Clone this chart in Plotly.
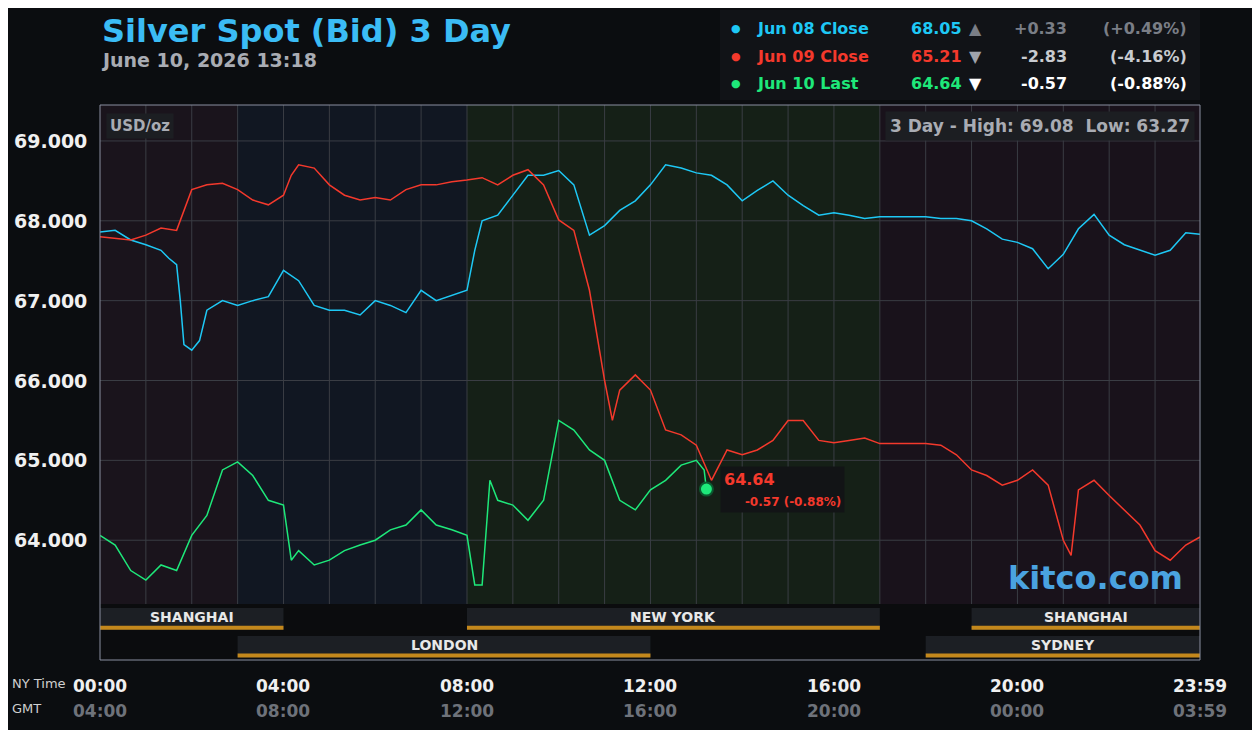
import plotly.graph_objects as go

# time in hours (NY), values in USD/oz
t_blue = [0, 0.33, 0.67, 1, 1.33, 1.5, 1.67, 1.75, 1.83, 2, 2.17, 2.33, 2.67, 3, 3.33, 3.67, 4, 4.33, 4.67, 5,
          5.33, 5.67, 6, 6.33, 6.67, 7, 7.33, 7.67, 8, 8.17, 8.33, 8.67, 9, 9.33, 9.67, 10, 10.33, 10.67, 11, 11.33,
          11.67, 12, 12.33, 12.67, 13, 13.33, 13.67, 14, 14.33, 14.67, 15, 15.33, 15.67, 16, 16.33, 16.67, 17, 18,
          18.33, 18.67, 19, 19.33, 19.67, 20, 20.33, 20.67, 21, 21.33, 21.67, 22, 22.33, 22.67, 23, 23.33, 23.67, 23.98]
v_blue = [67.86, 67.88, 67.76, 67.70, 67.63, 67.53, 67.45, 67.00, 66.45, 66.38, 66.50, 66.88, 67.00, 66.94, 67.00,
          67.05, 67.38, 67.25, 66.94, 66.88, 66.88, 66.82, 67.00, 66.94, 66.85, 67.13, 67.00, 67.07, 67.13, 67.63,
          68.00, 68.07, 68.32, 68.57, 68.57, 68.63, 68.45, 67.82, 67.94, 68.13, 68.25, 68.45, 68.70, 68.66, 68.60,
          68.57, 68.45, 68.25, 68.38, 68.50, 68.32, 68.19, 68.07, 68.10, 68.07, 68.03, 68.05, 68.05, 68.03, 68.03,
          68.00, 67.90, 67.77, 67.73, 67.65, 67.40, 67.58, 67.90, 68.08, 67.82, 67.70, 67.63, 67.57, 67.63, 67.85, 67.83]

t_red = [0, 0.33, 0.67, 1, 1.33, 1.67, 2, 2.33, 2.67, 3, 3.33, 3.67, 4, 4.17, 4.33, 4.67, 5, 5.33, 5.67, 6, 6.33,
         6.67, 7, 7.33, 7.67, 8, 8.33, 8.67, 9, 9.33, 9.67, 10, 10.33, 10.67, 11, 11.17, 11.33, 11.67, 12, 12.33,
         12.67, 13, 13.33, 13.67, 14, 14.33, 14.67, 15, 15.33, 15.67, 16, 16.33, 16.67, 17, 18, 18.33, 18.67, 19,
         19.33, 19.67, 20, 20.33, 20.67, 21, 21.17, 21.33, 21.67, 22, 22.33, 22.67, 23, 23.33, 23.67, 23.98]
v_red = [67.80, 67.78, 67.76, 67.82, 67.91, 67.88, 68.39, 68.45, 68.47, 68.39, 68.26, 68.20, 68.32, 68.57, 68.70,
         68.66, 68.45, 68.32, 68.26, 68.29, 68.26, 68.39, 68.45, 68.45, 68.49, 68.51, 68.54, 68.45, 68.57, 68.64,
         68.45, 68.01, 67.88, 67.13, 66.00, 65.50, 65.88, 66.07, 65.88, 65.38, 65.32, 65.19, 64.75, 65.13, 65.07,
         65.13, 65.25, 65.50, 65.50, 65.25, 65.22, 65.25, 65.28, 65.21, 65.21, 65.19, 65.07, 64.88, 64.81, 64.69,
         64.75, 64.88, 64.69, 64.00, 63.81, 64.63, 64.75, 64.56, 64.38, 64.19, 63.87, 63.75, 63.94, 64.04]

t_green = [0, 0.33, 0.67, 1, 1.33, 1.67, 2, 2.33, 2.67, 3, 3.33, 3.67, 4, 4.17, 4.33, 4.67, 5, 5.33, 5.67, 6, 6.33,
           6.67, 7, 7.33, 7.67, 8, 8.17, 8.33, 8.5, 8.67, 9, 9.33, 9.67, 10, 10.33, 10.67, 11, 11.33, 11.67, 12,
           12.33, 12.67, 13, 13.17, 13.22]
v_green = [64.06, 63.94, 63.62, 63.50, 63.69, 63.62, 64.06, 64.31, 64.88, 64.98, 64.81, 64.50, 64.44, 63.75, 63.87,
           63.69, 63.75, 63.87, 63.94, 64.00, 64.13, 64.19, 64.38, 64.19, 64.13, 64.06, 63.44, 63.44, 64.75, 64.50,
           64.44, 64.25, 64.50, 65.50, 65.38, 65.13, 65.00, 64.50, 64.38, 64.63, 64.75, 64.94, 65.00, 64.88, 64.64]

y_ticks = [64, 65, 66, 67, 68, 69]
x_ticks = [0, 4, 8, 12, 16, 20, 23.98]
ny_labels = ["00:00", "04:00", "08:00", "12:00", "16:00", "20:00", "23:59"]
gmt_labels = ["04:00", "08:00", "12:00", "16:00", "20:00", "00:00", "03:59"]

BLUE, RED, GREEN = "#1ec8f5", "#f4392c", "#1ee87a"
YMIN, YMAX, YDATA = 62.5, 69.45, 63.2
F = "DejaVu Sans"


def px(p):
    return (p - 100) / 1100


def py(p):
    return (660 - p) / 555


fig = go.Figure()
for t, v, c in [(t_blue, v_blue, BLUE), (t_red, v_red, RED), (t_green, v_green, GREEN)]:
    fig.add_trace(go.Scatter(x=t, y=v, mode="lines", line=dict(color=c, width=1.5), hoverinfo="skip"))
fig.add_trace(go.Scatter(x=[t_green[-1]], y=[v_green[-1]], mode="markers",
                         marker=dict(color=GREEN, size=13, line=dict(color="#0b5a30", width=2))))

shapes = []
# session background bands
for x0, x1, col in [(0, 3, "#1a141c"), (3, 8, "#111722"), (8, 17, "#152017"), (17, 24, "#19121b")]:
    shapes.append(dict(type="rect", xref="x", yref="y", x0=x0, x1=x1, y0=YDATA, y1=YMAX,
                       fillcolor=col, line_width=0, layer="below"))
# grid
for h in range(1, 24):
    shapes.append(dict(type="line", xref="x", yref="y", x0=h, x1=h, y0=YDATA, y1=YMAX,
                       line=dict(color="#3a3d44", width=1), layer="below"))
for yv in y_ticks:
    shapes.append(dict(type="line", xref="x", yref="y", x0=0, x1=24, y0=yv, y1=yv,
                       line=dict(color="#3a3d44", width=1), layer="below"))
# session bar strip
shapes.append(dict(type="rect", xref="x", yref="y", x0=0, x1=24, y0=YMIN, y1=YDATA,
                   fillcolor="#0b0c0e", line_width=0, layer="below"))
ann = []
sessions = [("SHANGHAI", 0, 4, 0), ("NEW YORK", 8, 17, 0), ("SHANGHAI", 19, 24, 0),
            ("LONDON", 3, 12, 1), ("SYDNEY", 18, 24, 1)]
row_h = (YDATA - YMIN) / 2
for name, x0, x1, r in sessions:
    top = YDATA - 0.05 - r * row_h
    bot = top - row_h + 0.08
    shapes.append(dict(type="rect", xref="x", yref="y", x0=x0, x1=x1, y0=bot, y1=top,
                       fillcolor="#1c1f24", line_width=0, layer="below"))
    shapes.append(dict(type="rect", xref="x", yref="y", x0=x0, x1=x1, y0=bot, y1=bot + 0.05,
                       fillcolor="#c4881c", line_width=0, layer="below"))
    ann.append(dict(x=(x0 + x1) / 2, y=(top + bot) / 2 + 0.02, xref="x", yref="y", text="<b>%s</b>" % name,
                    showarrow=False, yanchor="middle", font=dict(color="#e8e8e8", size=14, family=F)))
# plot border
shapes.append(dict(type="rect", xref="paper", yref="paper", x0=0, x1=1, y0=0, y1=1,
                   line=dict(color="#8a8fa0", width=1)))
# legend box
shapes.append(dict(type="rect", xref="paper", yref="paper", x0=px(720), x1=1,
                   y0=py(100), y1=py(10), fillcolor="#111317", line_width=0))

for yv in y_ticks:
    ann.append(dict(x=-0.01, y=yv, xref="paper", yref="y", text="<b>%.3f</b>" % yv, showarrow=False,
                    xanchor="right", yanchor="middle", font=dict(color="#f0f0f0", size=19, family=F)))
for xv, a, b in zip(x_ticks, ny_labels, gmt_labels):
    ann.append(dict(x=xv, y=py(686), xref="x", yref="paper", text="<b>%s</b>" % a, showarrow=False,
                    yanchor="middle", font=dict(color="#f0f0f0", size=17, family=F)))
    ann.append(dict(x=xv, y=py(711), xref="x", yref="paper", text="<b>%s</b>" % b, showarrow=False,
                    yanchor="middle", font=dict(color="#6e727a", size=17, family=F)))
ann.append(dict(x=px(10), y=py(683), xref="paper", yref="paper", text="NY Time", showarrow=False,
                xanchor="left", yanchor="middle", font=dict(color="#d0d0d0", size=13, family=F)))
ann.append(dict(x=px(10), y=py(708), xref="paper", yref="paper", text="GMT", showarrow=False,
                xanchor="left", yanchor="middle", font=dict(color="#d0d0d0", size=13, family=F)))

# title
ann.append(dict(x=px(100), y=py(31), xref="paper", yref="paper", text="<b>Silver Spot (Bid) 3 Day</b>",
                showarrow=False, xanchor="left", yanchor="middle", font=dict(color="#3bbcf5", size=32, family=F)))
ann.append(dict(x=px(99), y=py(60), xref="paper", yref="paper", text="<b>June 10, 2026 13:18</b>",
                showarrow=False, xanchor="left", yanchor="middle", font=dict(color="#a9acb3", size=19, family=F)))

# legend rows
rows = [("Jun 08 Close", "68.05", "▲", "+0.33", "(+0.49%)", BLUE, "#7a7e86", "#7a7e86"),
        ("Jun 09 Close", "65.21", "▼", "-2.83", "(-4.16%)", RED, "#9fa3ab", "#c8cbd0"),
        ("Jun 10 Last", "64.64", "▼", "-0.57", "(-0.88%)", GREEN, "#ffffff", "#ffffff")]
for i, (lab, val, arr, ch, pct, c, ac, tc) in enumerate(rows):
    yp = py(28 + i * 28)
    common = dict(xref="paper", yref="paper", showarrow=False, yanchor="middle")
    ann.append(dict(x=px(736), y=yp, text="●", font=dict(color=c, size=11, family=F), **common))
    ann.append(dict(x=px(755), y=yp, text="<b>%s</b>" % lab, xanchor="left",
                    font=dict(color=c, size=16, family=F), **common))
    ann.append(dict(x=px(964), y=yp, text="<b>%s</b>" % val, xanchor="right",
                    font=dict(color=c, size=16, family=F), **common))
    ann.append(dict(x=px(984), y=yp, text=arr, font=dict(color=ac, size=16, family=F), **common))
    ann.append(dict(x=px(1069), y=yp, text="<b>%s</b>" % ch, xanchor="right",
                    font=dict(color=tc, size=16, family=F), **common))
    ann.append(dict(x=px(1189), y=yp, text="<b>%s</b>" % pct, xanchor="right",
                    font=dict(color=tc, size=16, family=F), **common))

ann.append(dict(x=0.005, y=0.985, xref="paper", yref="paper", text="<b>USD/oz</b>", showarrow=False,
                xanchor="left", yanchor="top", bgcolor="#1c1e22", borderpad=3,
                font=dict(color="#a9acb3", size=15, family=F)))
ann.append(dict(x=0.995, y=0.99, xref="paper", yref="paper", text="<b>3 Day - High: 69.08  Low: 63.27</b>",
                showarrow=False, xanchor="right", yanchor="top", bgcolor="#1c1e22", borderpad=4,
                font=dict(color="#a9acb3", size=17, family=F)))
ann.append(dict(x=t_green[-1] + 0.3, y=v_green[-1], xref="x", yref="y",
                text="<b>64.64</b><br><span style='font-size:12px'><b>     -0.57 (-0.88%)</b></span>",
                showarrow=False, xanchor="left", yanchor="middle", align="left", bgcolor="#121416", borderpad=3,
                font=dict(color=RED, size=16, family=F)))
ann.append(dict(x=px(1185), y=py(578), xref="paper", yref="paper", text="<b>kitco.com</b>", showarrow=False,
                xanchor="right", yanchor="middle", font=dict(color="#4aa3e0", size=32, family=F)))

fig.update_layout(
    width=1252, height=722, margin=dict(l=92, r=60, t=97, b=70),
    paper_bgcolor="#0b0d10", plot_bgcolor="#0b0d10", showlegend=False,
    xaxis=dict(range=[0, 23.98], showgrid=False, zeroline=False, showticklabels=False),
    yaxis=dict(range=[YMIN, YMAX], showgrid=False, zeroline=False, showticklabels=False),
    shapes=shapes, annotations=ann,
)
fig.write_html("out.html")
